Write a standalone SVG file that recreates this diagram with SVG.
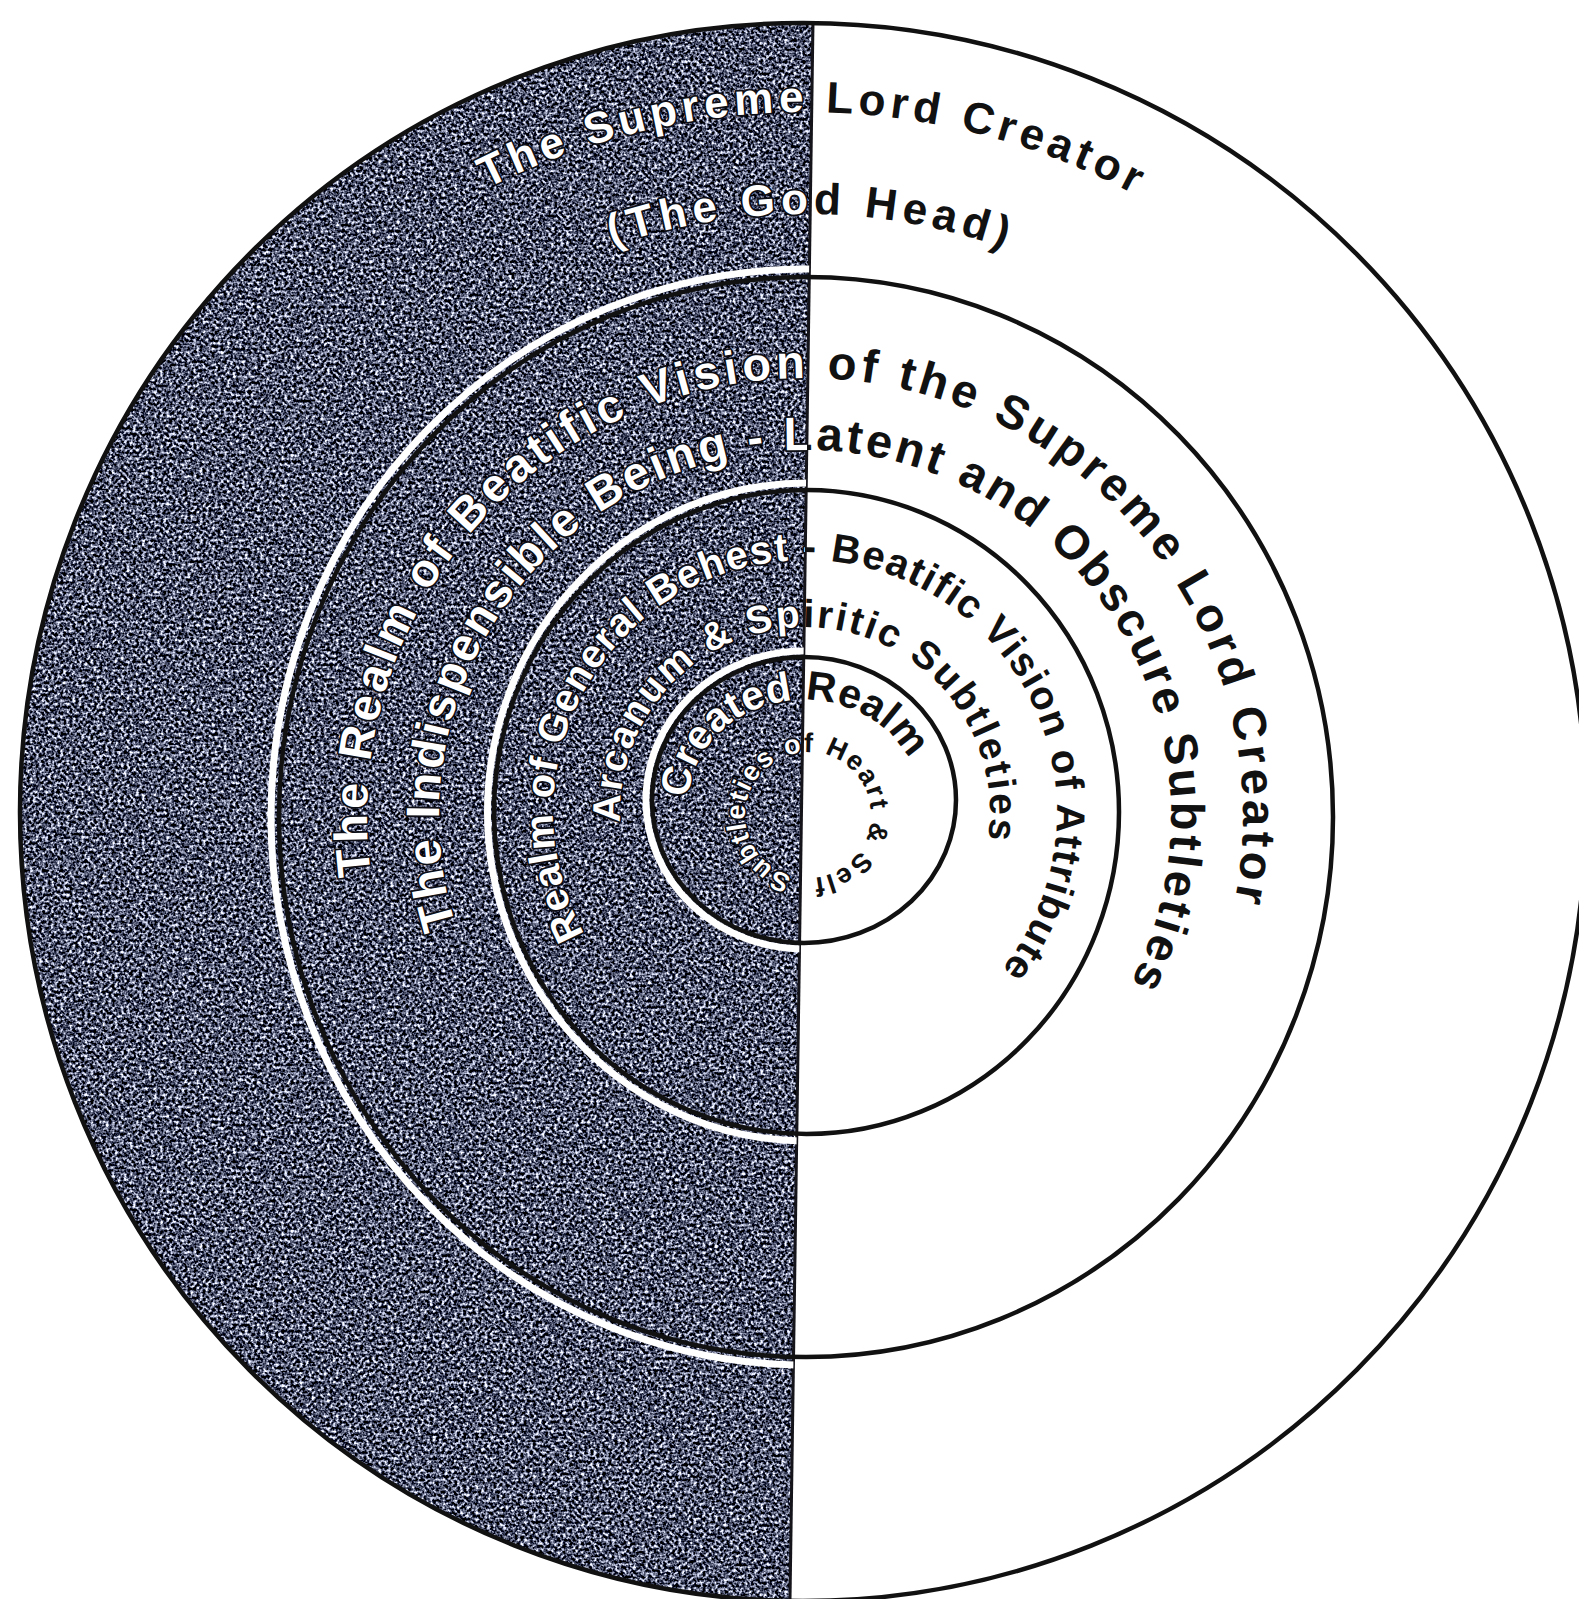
<svg xmlns="http://www.w3.org/2000/svg" width="1579" height="1599" viewBox="0 0 1579 1599">
<defs>
<style>
.ring{fill:none;stroke:#111;stroke-width:4.5}
.band{fill:none;stroke:#fff;stroke-width:7}
.lbl{font-family:"Liberation Sans",Arial,sans-serif;font-weight:bold;fill:url(#split);stroke:url(#splitStroke);stroke-width:3.5;stroke-linejoin:round;paint-order:stroke;text-anchor:middle}
</style>
<linearGradient id="split" gradientUnits="userSpaceOnUse" x1="701.5" y1="798.56" x2="901.5" y2="801.44">
<stop offset="0.5" stop-color="#ffffff"/><stop offset="0.5" stop-color="#111111"/>
</linearGradient>
<linearGradient id="splitStroke" gradientUnits="userSpaceOnUse" x1="701.5" y1="798.56" x2="901.5" y2="801.44">
<stop offset="0.5" stop-color="#0e0e16" stop-opacity="1"/><stop offset="0.5" stop-color="#000000" stop-opacity="0"/>
</linearGradient>
<clipPath id="leftHalf"><polygon points="0,0 813,0 790,1599 0,1599"/></clipPath>
<filter id="grain" filterUnits="userSpaceOnUse" x="0" y="0" width="1579" height="1599" color-interpolation-filters="sRGB">
<feTurbulence type="fractalNoise" baseFrequency="0.33" numOctaves="2" seed="7" result="t"/>
<feColorMatrix in="t" type="matrix" values="2.8 0 0 0 -1.1  2.8 0 0 0 -1.08  2.8 0 0 0 -0.98  0 0 0 0 1" result="c"/>
<feComposite in="c" in2="SourceGraphic" operator="in"/>
</filter>
<path id="p-r1a" d="M114.2,925.1 A700,700 0 0 1 813.6,112.1 A700,700 0 0 1 1492.8,941.9"/>
<path id="p-r1b" d="M215.0,909.7 A598,598 0 0 1 811.3,214.0 A598,598 0 0 1 1392.8,922.0"/>
<path id="p-r2a" d="M401.8,987.1 A438,438 0 0 1 820.3,378.3 A438,438 0 0 1 1195.3,1014.8"/>
<path id="p-r2b" d="M488.0,999.0 A366,366 0 0 1 836.9,451.4 A366,366 0 0 1 1085.4,1051.3"/>
<path id="p-r3a" d="M598.6,956.5 A252,252 0 0 1 827.0,561.0 A252,252 0 0 1 983.2,990.2"/>
<path id="p-r3b" d="M628.1,866.1 A185,185 0 0 1 814.7,627.3 A185,185 0 0 1 975.3,884.3"/>
<path id="p-r4a" d="M804,902 A115,101 0 0 1 784.0,701.5 A115,101 0 0 1 843.3,895.9"/>
<path id="p-r4b" d="M801.96,877.71 A63,63 0 0 1 814.04,752.29 A63,63 0 0 1 801.96,877.71"/>
</defs>
<rect width="1579" height="1599" fill="#ffffff"/>
<g id="shaded-half">
<ellipse cx="803" cy="812" rx="783" ry="789" fill="#4a4e62" clip-path="url(#leftHalf)"/>
<ellipse cx="803" cy="812" rx="783" ry="789" fill="#000" filter="url(#grain)" clip-path="url(#leftHalf)"/>
<line x1="813" y1="22" x2="790" y2="1599" stroke="#14141a" stroke-width="3"/>
</g>
<g id="ring-godhead">
<ellipse class="ring" cx="803" cy="812" rx="783" ry="789"/>
<text class="lbl" font-size="44" letter-spacing="5"><textPath href="#p-r1a" startOffset="50%">The Supreme Lord Creator</textPath></text>
<text class="lbl" font-size="44" letter-spacing="5.5"><textPath href="#p-r1b" startOffset="50%">(The God Head)</textPath></text>
</g>
<g id="ring-beatific-vision">
<ellipse class="band" cx="806" cy="817" rx="535" ry="548" clip-path="url(#leftHalf)"/>
<ellipse class="ring" cx="806" cy="817" rx="527" ry="540"/>
<text class="lbl" font-size="47" letter-spacing="4.3"><textPath href="#p-r2a" startOffset="50%">The Realm of Beatific Vision of the Supreme Lord Creator</textPath></text>
<text class="lbl" font-size="47" letter-spacing="3.2"><textPath href="#p-r2b" startOffset="50%">The Indispensible Being - Latent and Obscure Subtleties</textPath></text>
</g>
<g id="ring-general-behest">
<ellipse class="band" cx="806.5" cy="812" rx="319" ry="329" clip-path="url(#leftHalf)"/>
<ellipse class="ring" cx="806.5" cy="812" rx="312.5" ry="322"/>
<text class="lbl" font-size="40" letter-spacing="1.5"><textPath href="#p-r3a" startOffset="50%">Realm of General Behest - Beatific Vision of Attribute</textPath></text>
<text class="lbl" font-size="39" letter-spacing="2.5"><textPath href="#p-r3b" startOffset="50%">Arcanum &amp; Spiritic Subtleties</textPath></text>
</g>
<g id="ring-created-realm">
<ellipse class="band" cx="804" cy="800" rx="158" ry="149" clip-path="url(#leftHalf)"/>
<ellipse class="ring" cx="804" cy="800" rx="152" ry="143"/>
<text class="lbl" font-size="41" letter-spacing="0.5"><textPath href="#p-r4a" startOffset="50%">Created Realm</textPath></text>
<text class="lbl" font-size="27" letter-spacing="2"><textPath href="#p-r4b" startOffset="50%">Subtleties of Heart &amp; Self</textPath></text>
</g>
<g id="connectors"/>
</svg>
